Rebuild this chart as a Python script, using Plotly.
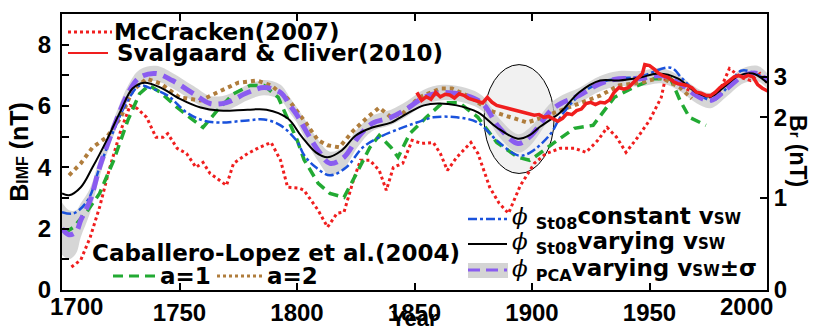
import plotly.graph_objects as go

# ---------------- data ----------------
mcc_years = [1704,1708,1712,1716,1720,1725,1729,1732,1736,1740,1743,1745,1749,1753,1757,1760,1763,1770,1773,1779,
             1784,1789,1793,1796,1801,1803,1809,1813,1817,1820,1824,1827,1831,1835,1838,1841,1845,1849,1853,1858,
             1861,1864,1868,1874,1877,1882,1886,1890,1895,1901,1906,1912,1918,1923,1928,1932,1936,1940,1945,1950,
             1955,1957,1962,1967,1975,1979,1984,1989,1993,1997,2000]
mcc_bimf = [0.75,0.98,1.72,2.7,3.9,5.2,6.02,5.92,5.63,4.98,4.98,5.1,4.62,4.45,4.0,4.16,3.8,3.41,4.13,4.45,
            4.65,4.81,4.23,3.35,3.32,3.25,2.6,2.05,2.5,2.54,3.58,4.23,4.23,3.9,3.25,4.0,4.13,4.88,4.78,4.81,
            4.45,3.9,4.33,4.81,4.45,3.35,2.83,2.5,3.4,4.13,4.45,4.62,4.62,4.49,4.88,5.3,4.98,4.49,4.98,5.53,
            6.28,6.99,6.73,6.5,6.28,6.34,7.22,6.93,6.83,7.06,6.76]

sc_years = [1851,1853,1855,1857,1859,1861,1863,1865,1867,1869,1871,1873,1875,1877,1879,1881,1883,1885,1887,1889,
            1891,1893,1895,1897,1899,1901,1903,1905,1907,1909,1911,1913,1915,1917,1919,1921,1923,1925,1927,1929,
            1931,1933,1935,1937,1939,1941,1943,1945,1947,1948,1950,1952,1954,1956,1958,1960,1962,1964,1966,1968,
            1970,1972,1974,1976,1978,1980,1982,1984,1986,1988,1990,1992,1994,1996,1998,2000,2002]
sc_bimf = [6.44,6.18,6.3,6.22,6.44,6.3,6.38,6.36,6.26,6.4,6.35,6.25,6.2,6.14,6.1,6.28,6.12,6.02,5.98,5.95,
           5.92,5.88,5.84,5.8,5.75,5.7,5.72,5.63,5.66,5.58,5.5,5.6,5.76,5.72,5.85,5.9,6.08,6.12,6.05,6.12,
           6.1,6.2,6.45,6.6,6.55,6.6,6.75,6.89,7.06,7.35,7.32,7.2,7.06,6.98,6.93,6.8,6.73,6.7,6.67,6.6,
           6.45,6.42,6.35,6.34,6.45,6.6,6.7,6.83,6.95,6.99,6.93,7.0,6.95,6.7,6.58,6.5,6.55]

a1_years = [1701,1705,1711,1716,1722,1728,1733,1737,1742,1749,1756,1760,1766,1773,1780,1786,1792,1797,1800,1803,
            1809,1814,1820,1826,1831,1835,1840,1843,1848,1855,1862,1869,1877,1885,1894,1899,1901,1909,1918,1926,
            1935,1943,1952,1959,1963,1967,1974]
a1_bimf = [1.85,2.05,2.6,3.15,4.23,5.53,6.4,6.67,6.44,5.95,5.53,5.3,5.85,6.4,6.67,6.67,6.28,5.4,4.9,4.25,
           3.48,3.15,3.02,3.9,4.65,5.04,4.65,4.33,5.1,5.63,6.11,6.11,5.63,4.81,4.33,4.23,4.33,4.78,5.27,5.37,
           6.28,6.6,6.89,6.89,6.18,5.63,5.37]

a2_years = [1703,1708,1713,1719,1725,1730,1736,1742,1750,1759,1766,1775,1783,1789,1796,1801,1803,1809,1813,1818,
            1824,1830,1835,1840,1845,1852,1861,1866,1874,1882,1891,1898,1903,1912,1920,1929,1937,1946,1955,1963,
            1968]
a2_bimf = [3.74,4.13,4.65,4.98,5.63,6.5,6.89,6.73,6.28,6.18,6.44,6.76,6.83,6.67,6.24,5.76,5.53,4.88,4.72,4.65,
           5.2,5.63,5.95,5.63,5.76,6.28,6.57,6.57,6.28,5.85,5.63,5.46,5.59,5.85,6.11,6.34,6.67,6.76,6.93,6.6,
           6.24]

st08c_years = [1700,1705,1711,1716,1722,1728,1733,1737,1745,1753,1760,1767,1779,1786,1793,1800,1803,1808,1814,1821,
               1828,1835,1844,1851,1858,1868,1877,1885,1894,1899,1908,1912,1920,1929,1937,1946,1959,1964,1970,1977,
               1983,1989,1994,2000]
st08c_bimf = [2.54,2.5,2.93,4.0,5.2,6.18,6.67,6.6,6.34,5.79,5.53,5.46,5.53,5.56,5.37,4.85,4.4,4.0,3.74,4.0,
              4.65,4.98,5.27,5.46,5.63,5.63,5.46,4.88,4.39,4.47,5.1,5.63,6.34,6.76,6.89,6.96,7.25,6.89,6.44,6.18,
              6.6,7.15,7.09,6.83]

st08v_years = [1700,1703,1708,1713,1719,1725,1730,1735,1742,1750,1759,1767,1779,1787,1796,1802,1808,1813,1819,1825,
               1832,1840,1847,1854,1860,1868,1877,1885,1894,1899,1903,1912,1920,1929,1937,1946,1954,1962,1970,1976,
               1981,1988,1994,2000]
st08v_bimf = [3.15,3.09,3.35,4.0,4.88,5.85,6.57,6.76,6.6,6.24,5.95,5.85,5.88,5.88,5.6,5.0,4.49,4.33,4.55,5.04,
              5.3,5.46,5.76,6.02,6.08,6.02,5.79,5.3,4.93,5.05,5.3,5.79,6.44,6.83,6.83,6.93,7.06,6.9,6.44,6.31,
              6.57,6.99,7.06,6.76]

pca_years = [1700,1703,1706,1708,1712,1716,1722,1728,1733,1740,1747,1756,1763,1770,1779,1786,1793,1797,1800,1803,
             1809,1814,1820,1826,1832,1840,1847,1854,1862,1872,1879,1886,1894,1899,1908,1913,1920,1929,1937,1946,
             1955,1963,1970,1976,1983,1990,1996,2000]
pca_bimf = [2.0,1.8,1.9,2.28,2.93,4.0,5.3,6.4,6.93,7.06,6.83,6.4,6.08,6.11,6.44,6.6,6.44,6.02,5.7,5.3,
            4.55,4.13,4.33,4.98,5.43,5.63,5.92,6.28,6.44,6.34,6.08,5.3,4.78,4.99,5.85,6.11,6.34,6.73,6.89,6.89,
            6.99,6.73,6.34,6.18,6.57,6.99,7.06,6.83]
pca_sigma = [0.85,0.8,0.7,0.55,0.4,0.3,0.25,0.25,0.25,0.25,0.25,0.25,0.25,0.25,0.25,0.25,0.25,0.25,0.25,0.3,
             0.35,0.38,0.35,0.3,0.25,0.25,0.25,0.25,0.25,0.25,0.25,0.3,0.3,0.3,0.25,0.25,0.25,0.25,0.25,0.25,
             0.25,0.25,0.25,0.25,0.25,0.25,0.25,0.25]

x_ticks = [1750, 1800, 1850, 1900, 1950]
x_end_labels = [1700, 2000]
y_ticks = [0, 1, 2, 3, 4, 5, 6, 7, 8]
y_tick_text = ['0', '', '2', '', '4', '', '6', '', '8']
br_tick_pos = [0, 3.0, 5.63, 6.96]      # B_IMF value corresponding to each B_r tick
br_tick_text = ['0', '1', '2', '3']

# ---------------- styles ----------------
RED = '#f01e1e'
GREEN = '#22aa33'
BROWN = '#b07d3c'
BLUE = '#1a52dc'
PURPLE = '#8a5cf0'
BAND = '#d4d4d4'
TICKFONT = dict(family='Liberation Sans', size=24, color='black', weight='bold')
TITLEFONT = dict(family='Liberation Sans', size=25, color='black', weight='bold')
LEGFONT = dict(family='DejaVu Sans', size=23, color='black', weight='bold')

fig = go.Figure()

upper = [m + s for m, s in zip(pca_bimf, pca_sigma)]
lower = [m - s for m, s in zip(pca_bimf, pca_sigma)]
fig.add_trace(go.Scatter(x=pca_years, y=upper, mode='lines', line=dict(width=0, color=BAND, shape='spline'),
                         hoverinfo='skip'))
fig.add_trace(go.Scatter(x=pca_years, y=lower, mode='lines', line=dict(width=0, color=BAND, shape='spline'),
                         fill='tonexty', fillcolor='rgba(200,200,200,0.75)', hoverinfo='skip'))

fig.add_trace(go.Scatter(x=mcc_years, y=mcc_bimf, mode='lines', name='McCracken(2007)',
                         line=dict(color=RED, width=3, dash='dot')))
fig.add_trace(go.Scatter(x=a1_years, y=a1_bimf, mode='lines', name='a=1',
                         line=dict(color=GREEN, width=3.5, dash='10px,6px')))
fig.add_trace(go.Scatter(x=a2_years, y=a2_bimf, mode='lines', name='a=2',
                         line=dict(color=BROWN, width=4, dash='dot')))
fig.add_trace(go.Scatter(x=st08c_years, y=st08c_bimf, mode='lines', name='St08 constant',
                         line=dict(color=BLUE, width=2.5, dash='dashdot', shape='spline')))
fig.add_trace(go.Scatter(x=pca_years, y=pca_bimf, mode='lines', name='PCA',
                         line=dict(color=PURPLE, width=5, dash='14px,7px', shape='spline')))
fig.add_trace(go.Scatter(x=st08v_years, y=st08v_bimf, mode='lines', name='St08 varying',
                         line=dict(color='black', width=2, shape='spline')))
fig.add_trace(go.Scatter(x=sc_years, y=sc_bimf, mode='lines', name='Svalgaard & Cliver(2010)',
                         line=dict(color=RED, width=3.5)))
fig.add_trace(go.Scatter(x=[], y=[], yaxis='y2', showlegend=False))

# plot-area geometry in pixels (for legend placement)
L, R, T, B = 62, 767, 14, 290
def px(x):
    return (x - L) / (R - L)
def py(y):
    return (B - y) / (B - T)

shapes = [
    dict(type='circle', xref='x', yref='y', x0=1879.6, x1=1909.4, y0=3.8, y1=7.35,
         fillcolor='#f1f1f1', line=dict(color='black', width=1), layer='below'),
    # legend samples
    dict(type='line', xref='paper', yref='paper', x0=px(68), x1=px(112), y0=py(32), y1=py(32),
         line=dict(color=RED, width=3, dash='dot')),
    dict(type='line', xref='paper', yref='paper', x0=px(68), x1=px(108), y0=py(53), y1=py(53),
         line=dict(color=RED, width=2)),
    dict(type='line', xref='paper', yref='paper', x0=px(113), x1=px(157), y0=py(276), y1=py(276),
         line=dict(color=GREEN, width=3, dash='10px,6px')),
    dict(type='line', xref='paper', yref='paper', x0=px(217), x1=px(262), y0=py(276), y1=py(276),
         line=dict(color=BROWN, width=3, dash='dot')),
    dict(type='line', xref='paper', yref='paper', x0=px(468), x1=px(507), y0=py(219), y1=py(219),
         line=dict(color=BLUE, width=2.5, dash='dashdot')),
    dict(type='line', xref='paper', yref='paper', x0=px(468), x1=px(507), y0=py(244), y1=py(244),
         line=dict(color='black', width=2)),
    dict(type='rect', xref='paper', yref='paper', x0=px(468), x1=px(508), y0=py(278), y1=py(263),
         fillcolor=BAND, line=dict(width=0)),
    dict(type='line', xref='paper', yref='paper', x0=px(468), x1=px(507), y0=py(270), y1=py(270),
         line=dict(color=PURPLE, width=3, dash='12px,6px')),
]

def ann(x, y, text, font=LEGFONT, xanchor='left', **kw):
    return dict(xref='paper', yref='paper', x=px(x), y=py(y), text=text, showarrow=False,
                xanchor=xanchor, yanchor='middle', font=font, **kw)

SMALL = "<span style='font-size:15px'>%s</span>"
PHI = "<span style='font-family:DejaVu Serif;font-weight:normal'><i>ϕ</i></span>"
annotations = [
    ann(112, 32, 'McCracken(2007)'),
    ann(115, 53, 'Svalgaard &amp; Cliver(2010)'),
    ann(90, 253, 'Caballero-Lopez et al.(2004)'),
    ann(158, 276, 'a=1'),
    ann(265, 276, 'a=2'),
    ann(510, 218, PHI + ' <sub>St08</sub>constant v' + SMALL % 'SW'),
    ann(510, 243, PHI + ' <sub>St08</sub>varying v' + SMALL % 'SW'),
    ann(510, 270, PHI + ' <sub>PCA</sub>varying v' + SMALL % 'SW' + '±σ'),
    # end tick labels of the year axis
    dict(xref='x', yref='paper', x=x_end_labels[0], y=0, yanchor='top', xanchor='center', xshift=14,
         yshift=-1, text=str(x_end_labels[0]), showarrow=False, font=TICKFONT),
    dict(xref='x', yref='paper', x=x_end_labels[1], y=0, yanchor='top', xanchor='center', xshift=-21,
         yshift=-1, text=str(x_end_labels[1]), showarrow=False, font=TICKFONT),
    # axis title of the year axis
    dict(xref='paper', yref='paper', x=0.5, y=0, yanchor='bottom', xanchor='center', yshift=-43,
         text='Year', showarrow=False,
         font=dict(family='Liberation Sans', size=22, color='black', weight='bold')),
    # right axis title
    dict(xref='paper', yref='paper', x=px(798), y=py(151), text='B' + "<span style='font-size:15px'>r</span> (nT)",
         textangle=90, showarrow=False, xanchor='center', yanchor='middle',
         font=dict(family='Liberation Sans', size=23, color='black', weight='bold')),
]

fig.update_layout(
    width=814, height=333,
    margin=dict(l=L, r=814 - R, t=T, b=333 - B, autoexpand=False),
    plot_bgcolor='white', paper_bgcolor='white',
    showlegend=False,
    shapes=shapes, annotations=annotations,
    xaxis=dict(range=[1700, 2000], tickvals=x_ticks, ticks='inside', ticklen=7, tickwidth=1.5,
               tickcolor='black', showline=True, linecolor='black', linewidth=2, mirror='ticks',
               showgrid=False, zeroline=False, tickfont=TICKFONT, automargin=False,
               ticklabelstandoff=0),
    yaxis=dict(range=[0, 9], tickvals=y_ticks, ticktext=y_tick_text, ticks='inside', ticklen=7,
               tickwidth=1.5, tickcolor='black', showline=True, linecolor='black', linewidth=2,
               showgrid=False, zeroline=False, tickfont=TICKFONT, ticklabelstandoff=4, automargin=False,
               title=dict(text="B<span style='font-size:16px'>IMF</span> (nT)", standoff=2, font=TITLEFONT)),
    yaxis2=dict(range=[0, 9], overlaying='y', side='right', tickvals=br_tick_pos, ticktext=br_tick_text,
                ticks='inside', ticklen=7, tickwidth=1.5, tickcolor='black', showline=True,
                linecolor='black', linewidth=2, showgrid=False, zeroline=False, tickfont=TICKFONT,
                ticklabelstandoff=0, automargin=False),
)

fig.write_html('out.html', config={'displayModeBar': False},
               post_script="document.body.style.margin='0px';document.body.style.overflow='hidden';")
